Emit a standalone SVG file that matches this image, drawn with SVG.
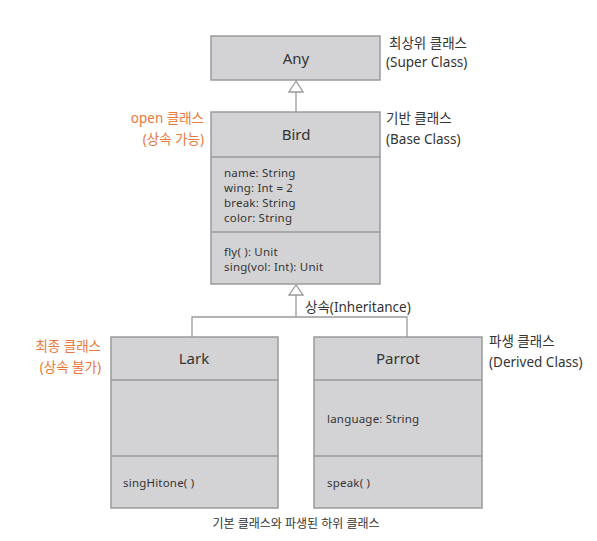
<svg xmlns="http://www.w3.org/2000/svg" width="597" height="541" viewBox="0 0 597 541">
<style>
.box{fill:#d3d3d5;stroke:#9a9a9a;stroke-width:1.5}
.div{stroke:#9a9a9a;stroke-width:1.5}
.t{font-family:"Noto Sans","Noto Sans CJK KR",sans-serif;fill:#333}
.title{font-size:15px;text-anchor:middle}
.m{font-size:11.5px;letter-spacing:0.2px}
.lab{font-size:13.5px}
.cap{font-size:12px}
.or{fill:#e8793a}
.con{fill:none;stroke:#9a9a9a;stroke-width:1.3}
</style>
<rect width="597" height="541" fill="#fff"/>
<g id="connectors">
<line class="con" x1="296" y1="92" x2="296" y2="112"/>
<polygon class="con" points="296,81 289,92 303,92" style="fill:#fff"/>
<polyline class="con" points="296,295 296,317"/>
<polyline class="con" points="192,337 192,317 407,317 407,337"/>
<polygon class="con" points="296,285 289,295 303,295" style="fill:#fff"/>
</g>
<g id="any">
<rect class="box" x="211" y="36" width="169" height="44"/>
<text class="t title" x="296" y="64">Any</text>
</g>
<g id="bird">
<rect class="box" x="211" y="112" width="169" height="172"/>
<line class="div" x1="211" y1="157" x2="380" y2="157"/>
<line class="div" x1="211" y1="232" x2="380" y2="232"/>
<text class="t title" x="296" y="140">Bird</text>
<text class="t m" x="224" y="177">name: String</text>
<text class="t m" x="224" y="192">wing: Int = 2</text>
<text class="t m" x="224" y="207">break: String</text>
<text class="t m" x="224" y="222">color: String</text>
<text class="t m" x="224" y="256">fly( ): Unit</text>
<text class="t m" x="224" y="271">sing(vol: Int): Unit</text>
</g>
<g id="lark">
<rect class="box" x="111" y="337" width="167" height="171"/>
<line class="div" x1="111" y1="380" x2="278" y2="380"/>
<line class="div" x1="111" y1="456" x2="278" y2="456"/>
<text class="t title" x="194" y="364">Lark</text>
<text class="t m" x="123" y="487">singHitone( )</text>
</g>
<g id="parrot">
<rect class="box" x="314" y="337" width="168" height="171"/>
<line class="div" x1="314" y1="380" x2="482" y2="380"/>
<line class="div" x1="314" y1="456" x2="482" y2="456"/>
<text class="t title" x="398" y="364">Parrot</text>
<text class="t m" x="327" y="423">language: String</text>
<text class="t m" x="327" y="487">speak( )</text>
</g>
<g id="labels">
<text class="t lab" x="389" y="48">최상위 클래스</text>
<text class="t lab" x="386" y="67">(Super Class)</text>
<text class="t lab" x="386" y="123">기반 클래스</text>
<text class="t lab" x="386" y="144">(Base Class)</text>
<text class="t lab or" x="204" y="123" text-anchor="end">open 클래스</text>
<text class="t lab or" x="204" y="144" text-anchor="end">(상속 가능)</text>
<text class="t lab" x="305" y="312">상속(Inheritance)</text>
<text class="t lab or" x="101" y="351" text-anchor="end">최종 클래스</text>
<text class="t lab or" x="101" y="372" text-anchor="end">(상속 불가)</text>
<text class="t lab" x="489" y="346">파생 클래스</text>
<text class="t lab" x="489" y="367">(Derived Class)</text>
<text class="t cap" x="296" y="528" text-anchor="middle">기본 클래스와 파생된 하위 클래스</text>
</g>
</svg>
